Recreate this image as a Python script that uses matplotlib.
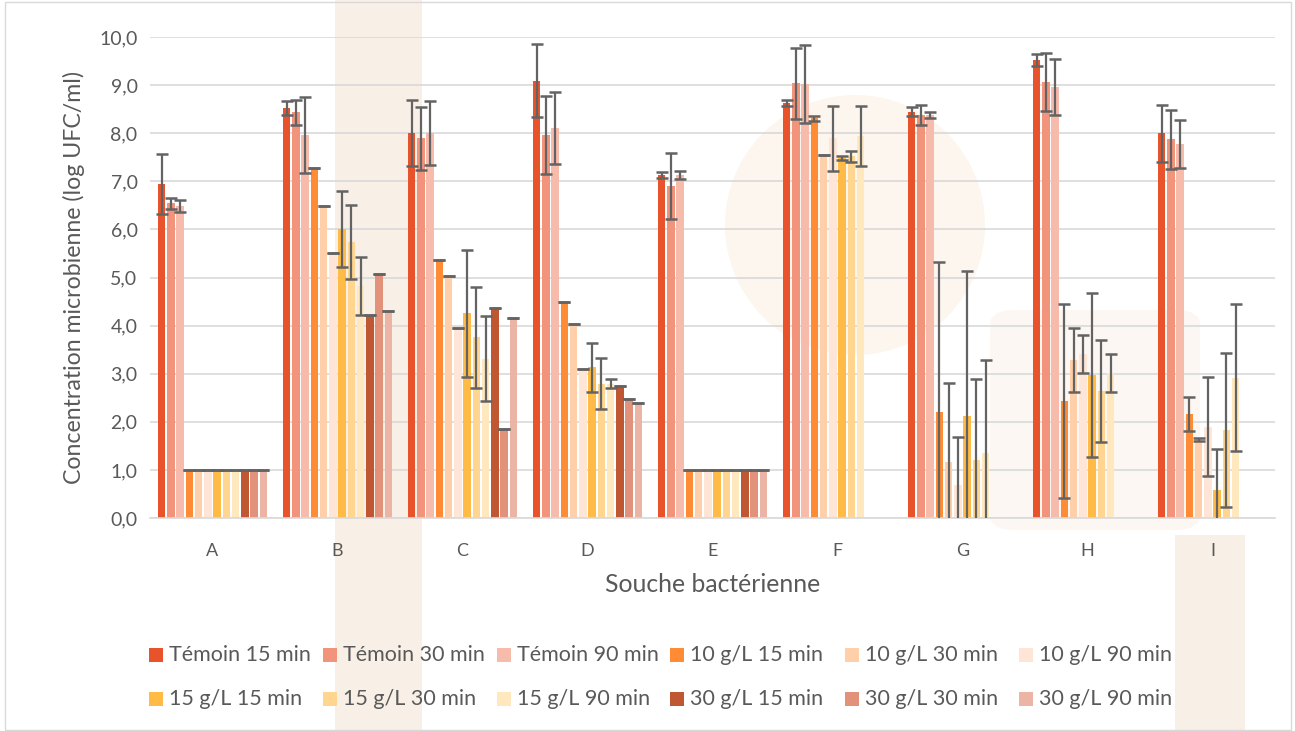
import matplotlib.pyplot as plt
import matplotlib.patches as mpatches
import numpy as np

plt.rcParams['font.family'] = ['Lato', 'DejaVu Sans']

# strains
souches = ['A', 'B', 'C', 'D', 'E', 'F', 'G', 'H', 'I']

series = ['Témoin 15 min', 'Témoin 30 min', 'Témoin 90 min',
          '10 g/L 15 min', '10 g/L 30 min', '10 g/L 90 min',
          '15 g/L 15 min', '15 g/L 30 min', '15 g/L 90 min',
          '30 g/L 15 min', '30 g/L 30 min', '30 g/L 90 min']

colors = ['#E8532B', '#F2937B', '#F7BBAC',
          '#FF8C34', '#FFCFAA', '#FEE5D6',
          '#FFBB45', '#FFD590', '#FFE7BE',
          '#BF5733', '#E2917A', '#ECB4A4']

nan = np.nan
# mean values (log UFC/ml), one list per series, over strains A..I
temoin_15 = [6.94, 8.52, 8.00, 9.09, 7.13, 8.62, 8.45, 9.52, 8.00]
temoin_30 = [6.54, 8.44, 7.89, 7.97, 6.90, 9.04, 8.38, 9.07, 7.87]
temoin_90 = [6.49, 7.96, 8.00, 8.10, 7.13, 9.02, 8.38, 8.96, 7.78]
g10_15 = [1.0, 7.28, 5.36, 4.50, 1.0, 8.31, 2.20, 2.43, 2.16]
g10_30 = [1.0, 6.49, 5.03, 4.04, 1.0, 7.55, 1.16, 3.28, 1.64]
g10_90 = [1.0, 5.50, 3.95, 3.10, 1.0, 7.89, 0.69, 3.41, 1.90]
g15_15 = [1.0, 6.00, 4.26, 3.13, 1.0, 7.48, 2.12, 2.97, 0.58]
g15_30 = [1.0, 5.74, 3.76, 2.79, 1.0, 7.52, 1.21, 2.64, 1.83]
g15_90 = [1.0, 4.82, 3.31, 2.79, 1.0, 7.94, 1.35, 3.01, 2.92]
g30_15 = [1.0, 4.23, 4.36, 2.74, 1.0, nan, nan, nan, nan]
g30_30 = [1.0, 5.07, 1.84, 2.48, 1.0, nan, nan, nan, nan]
g30_90 = [1.0, 4.30, 4.16, 2.40, 1.0, nan, nan, nan, nan]

# standard deviations
sd_temoin_15 = [0.62, 0.15, 0.69, 0.76, 0.06, 0.06, 0.09, 0.12, 0.59]
sd_temoin_30 = [0.12, 0.26, 0.65, 0.81, 0.69, 0.74, 0.20, 0.60, 0.62]
sd_temoin_90 = [0.12, 0.79, 0.67, 0.75, 0.08, 0.81, 0.07, 0.58, 0.50]
sd_g10_15 = [0.0, 0.0, 0.0, 0.0, 0.0, 0.05, 3.13, 2.02, 0.35]
sd_g10_30 = [0.0, 0.0, 0.0, 0.0, 0.0, 0.0, 1.65, 0.66, 0.03]
sd_g10_90 = [0.0, 0.0, 0.0, 0.0, 0.0, 0.67, 1.00, 0.39, 1.03]
sd_g15_15 = [0.0, 0.79, 1.32, 0.51, 0.0, 0.04, 3.01, 1.70, 0.85]
sd_g15_30 = [0.0, 0.77, 1.05, 0.53, 0.0, 0.11, 1.69, 1.07, 1.60]
sd_g15_90 = [0.0, 0.60, 0.88, 0.09, 0.0, 0.62, 1.93, 0.40, 1.52]
sd_g30_15 = [0.0, 0.0, 0.0, 0.0, 0.0, nan, nan, nan, nan]
sd_g30_30 = [0.0, 0.0, 0.0, 0.0, 0.0, nan, nan, nan, nan]
sd_g30_90 = [0.0, 0.0, 0.0, 0.0, 0.0, nan, nan, nan, nan]

values = [temoin_15, temoin_30, temoin_90, g10_15, g10_30, g10_90,
          g15_15, g15_30, g15_90, g30_15, g30_30, g30_90]
errors = [sd_temoin_15, sd_temoin_30, sd_temoin_90, sd_g10_15, sd_g10_30, sd_g10_90,
          sd_g15_15, sd_g15_30, sd_g15_90, sd_g30_15, sd_g30_30, sd_g30_90]

text_color = '#595959'
W, H = 1295, 731

fig = plt.figure(figsize=(12.95, 7.31), dpi=100)

# faint watermark of the background logo (pixel boxes -> figure fraction)
def px_rect(x0, y0, w, h, color, rounded=False):
    xy = (x0 / W, 1 - (y0 + h) / H)
    if rounded:
        p = mpatches.FancyBboxPatch(xy, w / W, h / H, boxstyle='round,pad=0,rounding_size=0.02',
                                    transform=fig.transFigure, facecolor=color,
                                    edgecolor='none', zorder=0)
    else:
        p = mpatches.Rectangle(xy, w / W, h / H, transform=fig.transFigure,
                               facecolor=color, edgecolor='none', zorder=0)
    fig.patches.append(p)

px_rect(335, 0, 87, 731, '#F8F0E7')
fig.patches.append(mpatches.Ellipse((855 / W, 1 - 225 / H), 260 / W, 260 / H,
                                    transform=fig.transFigure, facecolor='#FCF6EF',
                                    edgecolor='none', zorder=0))
px_rect(990, 310, 210, 220, '#FCF7F2', rounded=True)
px_rect(1175, 535, 70, 196, '#F8F0E7')
fig.patches.append(mpatches.Rectangle((0.004, 0.002), 0.993, 0.995, transform=fig.transFigure,
                                      facecolor='none', edgecolor='#D9D9D9', linewidth=1, zorder=0.5))

ax = fig.add_axes([150 / W, 1 - 518 / H, 1125 / W, 481 / H])
ax.set_zorder(1)
ax.patch.set_alpha(0)

x = np.arange(len(souches))
n = len(series)
slot = 0.89 / n
width = slot * 0.82

for i in range(n):
    pos = x - 0.445 + slot * (i + 0.5)
    ax.bar(pos, values[i], width, color=colors[i], label=series[i], zorder=2)
    ax.errorbar(pos, values[i], yerr=errors[i], fmt='none', ecolor='#636363',
                elinewidth=1.6, capsize=4.5, capthick=1.8, zorder=3)

ax.set_ylim(0, 10)
ax.set_xlim(-0.5, len(souches) - 0.5)
ax.set_yticks(np.arange(0, 11, 1))
ax.set_yticklabels([f'{v:.1f}'.replace('.', ',') for v in np.arange(0, 11, 1)])
ax.set_xticks(x)
ax.set_xticklabels(souches)
ax.yaxis.grid(True, color='#D9D9D9', linewidth=1.2, zorder=0)
ax.set_axisbelow(True)
for s in ['top', 'right', 'left']:
    ax.spines[s].set_visible(False)
ax.spines['bottom'].set_color('#D9D9D9')
ax.spines['bottom'].set_linewidth(1.2)
ax.tick_params(axis='both', length=0, colors=text_color)
ax.tick_params(axis='y', pad=9, labelsize=14)
ax.tick_params(axis='x', pad=18, labelsize=13)

ax.set_ylabel('Concentration microbienne (log UFC/ml)', color=text_color, fontsize=16.7, labelpad=10)
ax.set_xlabel('Souche bactérienne', color=text_color, fontsize=17.8, labelpad=10)

# legend laid out like the original: two rows of six, filled row by row
col_x = [149, 323, 497, 670, 845, 1019]
row_y = [655, 699]
for i, (name, c) in enumerate(zip(series, colors)):
    r, k = divmod(i, 6)
    fig.patches.append(mpatches.Rectangle((col_x[k] / W, 1 - (row_y[r] + 7) / H), 14 / W, 14 / H,
                                          transform=fig.transFigure, facecolor=c,
                                          edgecolor='none', zorder=2))
    fig.text((col_x[k] + 20) / W, 1 - row_y[r] / H, name, color=text_color, fontsize=15.5,
             va='center', ha='left', zorder=2)

plt.savefig('out.png', dpi=100)
